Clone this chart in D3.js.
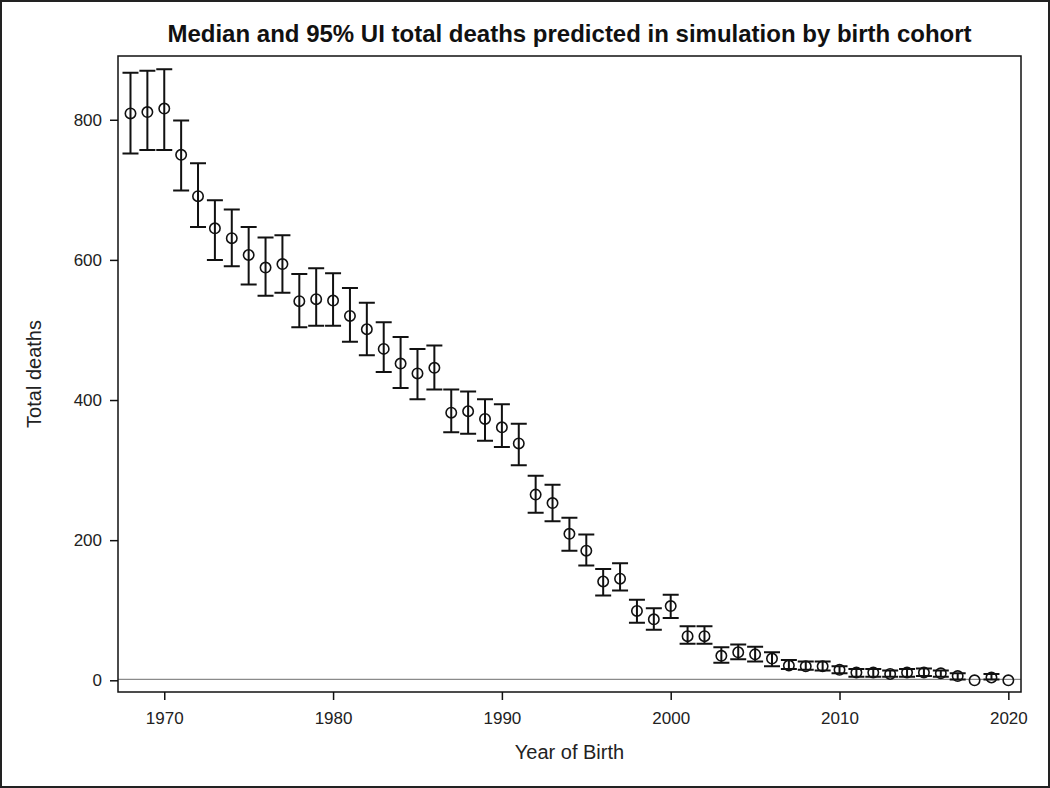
<!DOCTYPE html>
<html>
<head>
<meta charset="utf-8">
<script src="https://cdn.jsdelivr.net/npm/d3@7"></script>
<style>
  body { margin: 0; background: #fff; }
  svg { display: block; font-family: "Liberation Sans", Arial, sans-serif; }
</style>
</head>
<body>
<div id="chart"></div>
<script>
// birth cohorts and simulated deaths (median + 95% UI)
const years = d3.range(1968, 2021)
const median = [809, 811, 816, 750, 691, 645, 631, 607, 589, 594,
  541, 544, 542, 520, 501, 473, 452, 438, 446, 382,
  384, 373, 361, 338, 265, 253, 209, 185, 141, 145,
  99, 87, 106, 63, 63, 35, 40, 37, 31, 21,
  20, 20, 15, 11, 11, 9, 11, 11, 10, 6,
  0, 4, 0]
const upper = [867, 870, 872, 799, 738, 685, 672, 647, 632, 635,
  580, 588, 581, 560, 539, 511, 490, 473, 478, 415,
  412, 401, 394, 366, 292, 279, 232, 208, 159, 167,
  115, 103, 122, 77, 77, 47, 51, 48, 40, 29,
  27, 27, 20, 16, 16, 14, 16, 17, 14, 10,
  0, 9, 0]
const lower = [752, 757, 757, 699, 647, 600, 591, 565, 549, 553,
  504, 506, 506, 483, 464, 440, 417, 401, 415, 354,
  352, 342, 333, 307, 239, 227, 185, 164, 121, 128,
  82, 72, 89, 52, 52, 25, 30, 27, 20, 16,
  15, 14, 10, 5, 5, 5, 5, 6, 5, 1,
  0, 1, 0]
const xTicks = [1970, 1980, 1990, 2000, 2010, 2020]
const yTicks = [0, 200, 400, 600, 800]

const width = 1050
const height = 788
const margin = {top: 56, right: 29, bottom: 96, left: 118}
const ink = "#111"

const svg = d3.select("#chart").append("svg")
  .attr("width", width)
  .attr("height", height)

// outer frame round the whole picture
svg.append("rect")
  .attr("x", 1).attr("y", 1)
  .attr("width", width - 2).attr("height", height - 2)
  .attr("fill", "none").attr("stroke", "#222").attr("stroke-width", 2)

const x = d3.scaleLinear()
  .domain([1967.26, 2020.75])
  .range([margin.left, width - margin.right])
const y = d3.scaleLinear()
  .domain([-16.7, 891])
  .range([height - margin.bottom, margin.top])

const data = years.map((yr, i) => ({year: yr, med: median[i], lo: lower[i], hi: upper[i]}))

// zero reference line
svg.append("line")
  .attr("x1", x.range()[0]).attr("x2", x.range()[1])
  .attr("y1", y(0) - 1).attr("y2", y(0) - 1)
  .attr("stroke", "#8a8a8a").attr("stroke-width", 1.3)

// axes
const xAxis = svg.append("g")
  .attr("transform", `translate(0,${height - margin.bottom})`)
  .call(d3.axisBottom(x).tickValues(xTicks).tickFormat(d3.format("d")).tickSize(8).tickPadding(12))
const yAxis = svg.append("g")
  .attr("transform", `translate(${margin.left},0)`)
  .call(d3.axisLeft(y).tickValues(yTicks).tickSize(8).tickPadding(8))

for (const ax of [xAxis, yAxis]) {
  ax.select(".domain").remove()
  ax.selectAll(".tick line").attr("stroke", ink).attr("stroke-width", 1.5)
  ax.selectAll(".tick text").attr("fill", "#222").style("font-size", "17px")
    .style("font-family", "'Liberation Sans', Arial, sans-serif")
}

// plot box
svg.append("rect")
  .attr("x", margin.left).attr("y", margin.top)
  .attr("width", width - margin.left - margin.right)
  .attr("height", height - margin.top - margin.bottom)
  .attr("fill", "none").attr("stroke", ink).attr("stroke-width", 1.5)

// error bars
const capHalf = 8
const bars = svg.append("g")
  .attr("stroke", ink).attr("stroke-width", 2).attr("fill", "none")

bars.selectAll(".whisker")
  .data(data.filter(d => d.hi > d.lo))
  .enter().append("path")
  .attr("class", "whisker")
  .attr("d", d => {
    const cx = x(d.year)
    return `M${cx},${y(d.hi)}V${y(d.lo)}`
      + `M${cx - capHalf},${y(d.hi)}H${cx + capHalf}`
      + `M${cx - capHalf},${y(d.lo)}H${cx + capHalf}`
  })

// median markers
svg.append("g").selectAll("circle")
  .data(data)
  .enter().append("circle")
  .attr("cx", d => x(d.year))
  .attr("cy", d => y(d.med))
  .attr("r", 5.2)
  .attr("fill", "none")
  .attr("stroke", ink)
  .attr("stroke-width", 1.6)

// titles
svg.append("text")
  .attr("x", (margin.left + width - margin.right) / 2)
  .attr("y", 42)
  .attr("text-anchor", "middle")
  .style("font-size", "24px").style("font-weight", "bold")
  .attr("fill", "#111")
  .text("Median and 95% UI total deaths predicted in simulation by birth cohort")

svg.append("text")
  .attr("x", (margin.left + width - margin.right) / 2)
  .attr("y", 759)
  .attr("text-anchor", "middle")
  .style("font-size", "20px")
  .attr("fill", "#222")
  .text("Year of Birth")

svg.append("text")
  .attr("transform", `translate(41,${(margin.top + height - margin.bottom) / 2}) rotate(-90)`)
  .attr("text-anchor", "middle")
  .style("font-size", "20px")
  .attr("fill", "#222")
  .text("Total deaths")
</script>
</body>
</html>
